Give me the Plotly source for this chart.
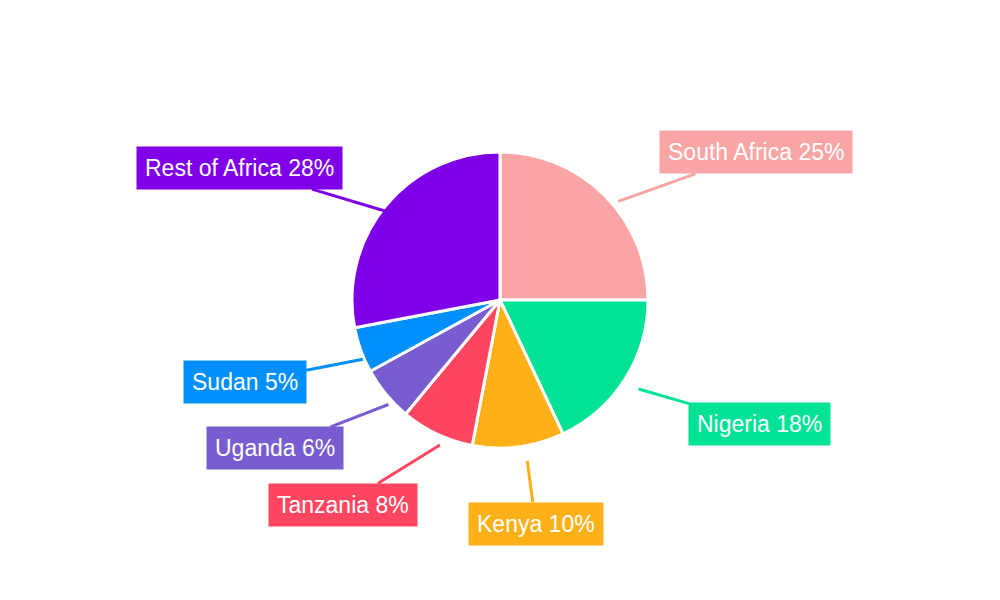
import math
import plotly.graph_objects as go

# data
countries = ["South Africa", "Nigeria", "Kenya", "Tanzania", "Uganda", "Sudan", "Rest of Africa"]
shares = [25, 18, 10, 8, 6, 5, 28]
colors = ["#F9A5A5", "#00E396", "#FEB019", "#FF4560", "#775DD0", "#008FFB", "#7F00E8"]

# label offsets (pixels) from the slice edge
offsets = [(143, -51), (127, 37), (9, 69), (-102, 63), (-119, 46), (-124, 24), (-154, -46)]

W, H = 1000, 600
cx, cy, r = 500, 300, 148
# plotly renders the pie slightly off the requested domain; compensate
dx, dy = -8, -8

fig = go.Figure(go.Pie(
    labels=countries, values=shares, sort=False, direction="clockwise",
    marker=dict(colors=colors, line=dict(color="white", width=3)),
    textinfo="none", hoverinfo="label+percent", showlegend=False,
    domain=dict(x=[(cx + dx - r) / W, (cx + dx + r) / W],
                y=[(H - cy - dy - r) / H, (H - cy - dy + r) / H]),
))

total = sum(shares)
cum = 0
annotations = []
for name, val, col, (ox, oy) in zip(countries, shares, colors, offsets):
    mid = (cum + val / 2) / total * 2 * math.pi
    cum += val
    ex = cx + r * math.sin(mid)
    ey = cy - r * math.cos(mid)
    annotations.append(dict(
        x=ex / W, y=1 - ey / H, xref="paper", yref="paper",
        ax=ox, ay=oy, text=f"{name} {round(val / total * 100)}%",
        showarrow=True, arrowhead=0, arrowwidth=3, arrowcolor=col, standoff=6,
        bgcolor=col, borderpad=8, font=dict(family="Liberation Sans, Arial", size=23, color="white"),
    ))

fig.update_layout(
    width=W, height=H, margin=dict(l=0, r=0, t=0, b=0),
    paper_bgcolor="white", plot_bgcolor="white", annotations=annotations,
)
fig.write_html("out.html")
